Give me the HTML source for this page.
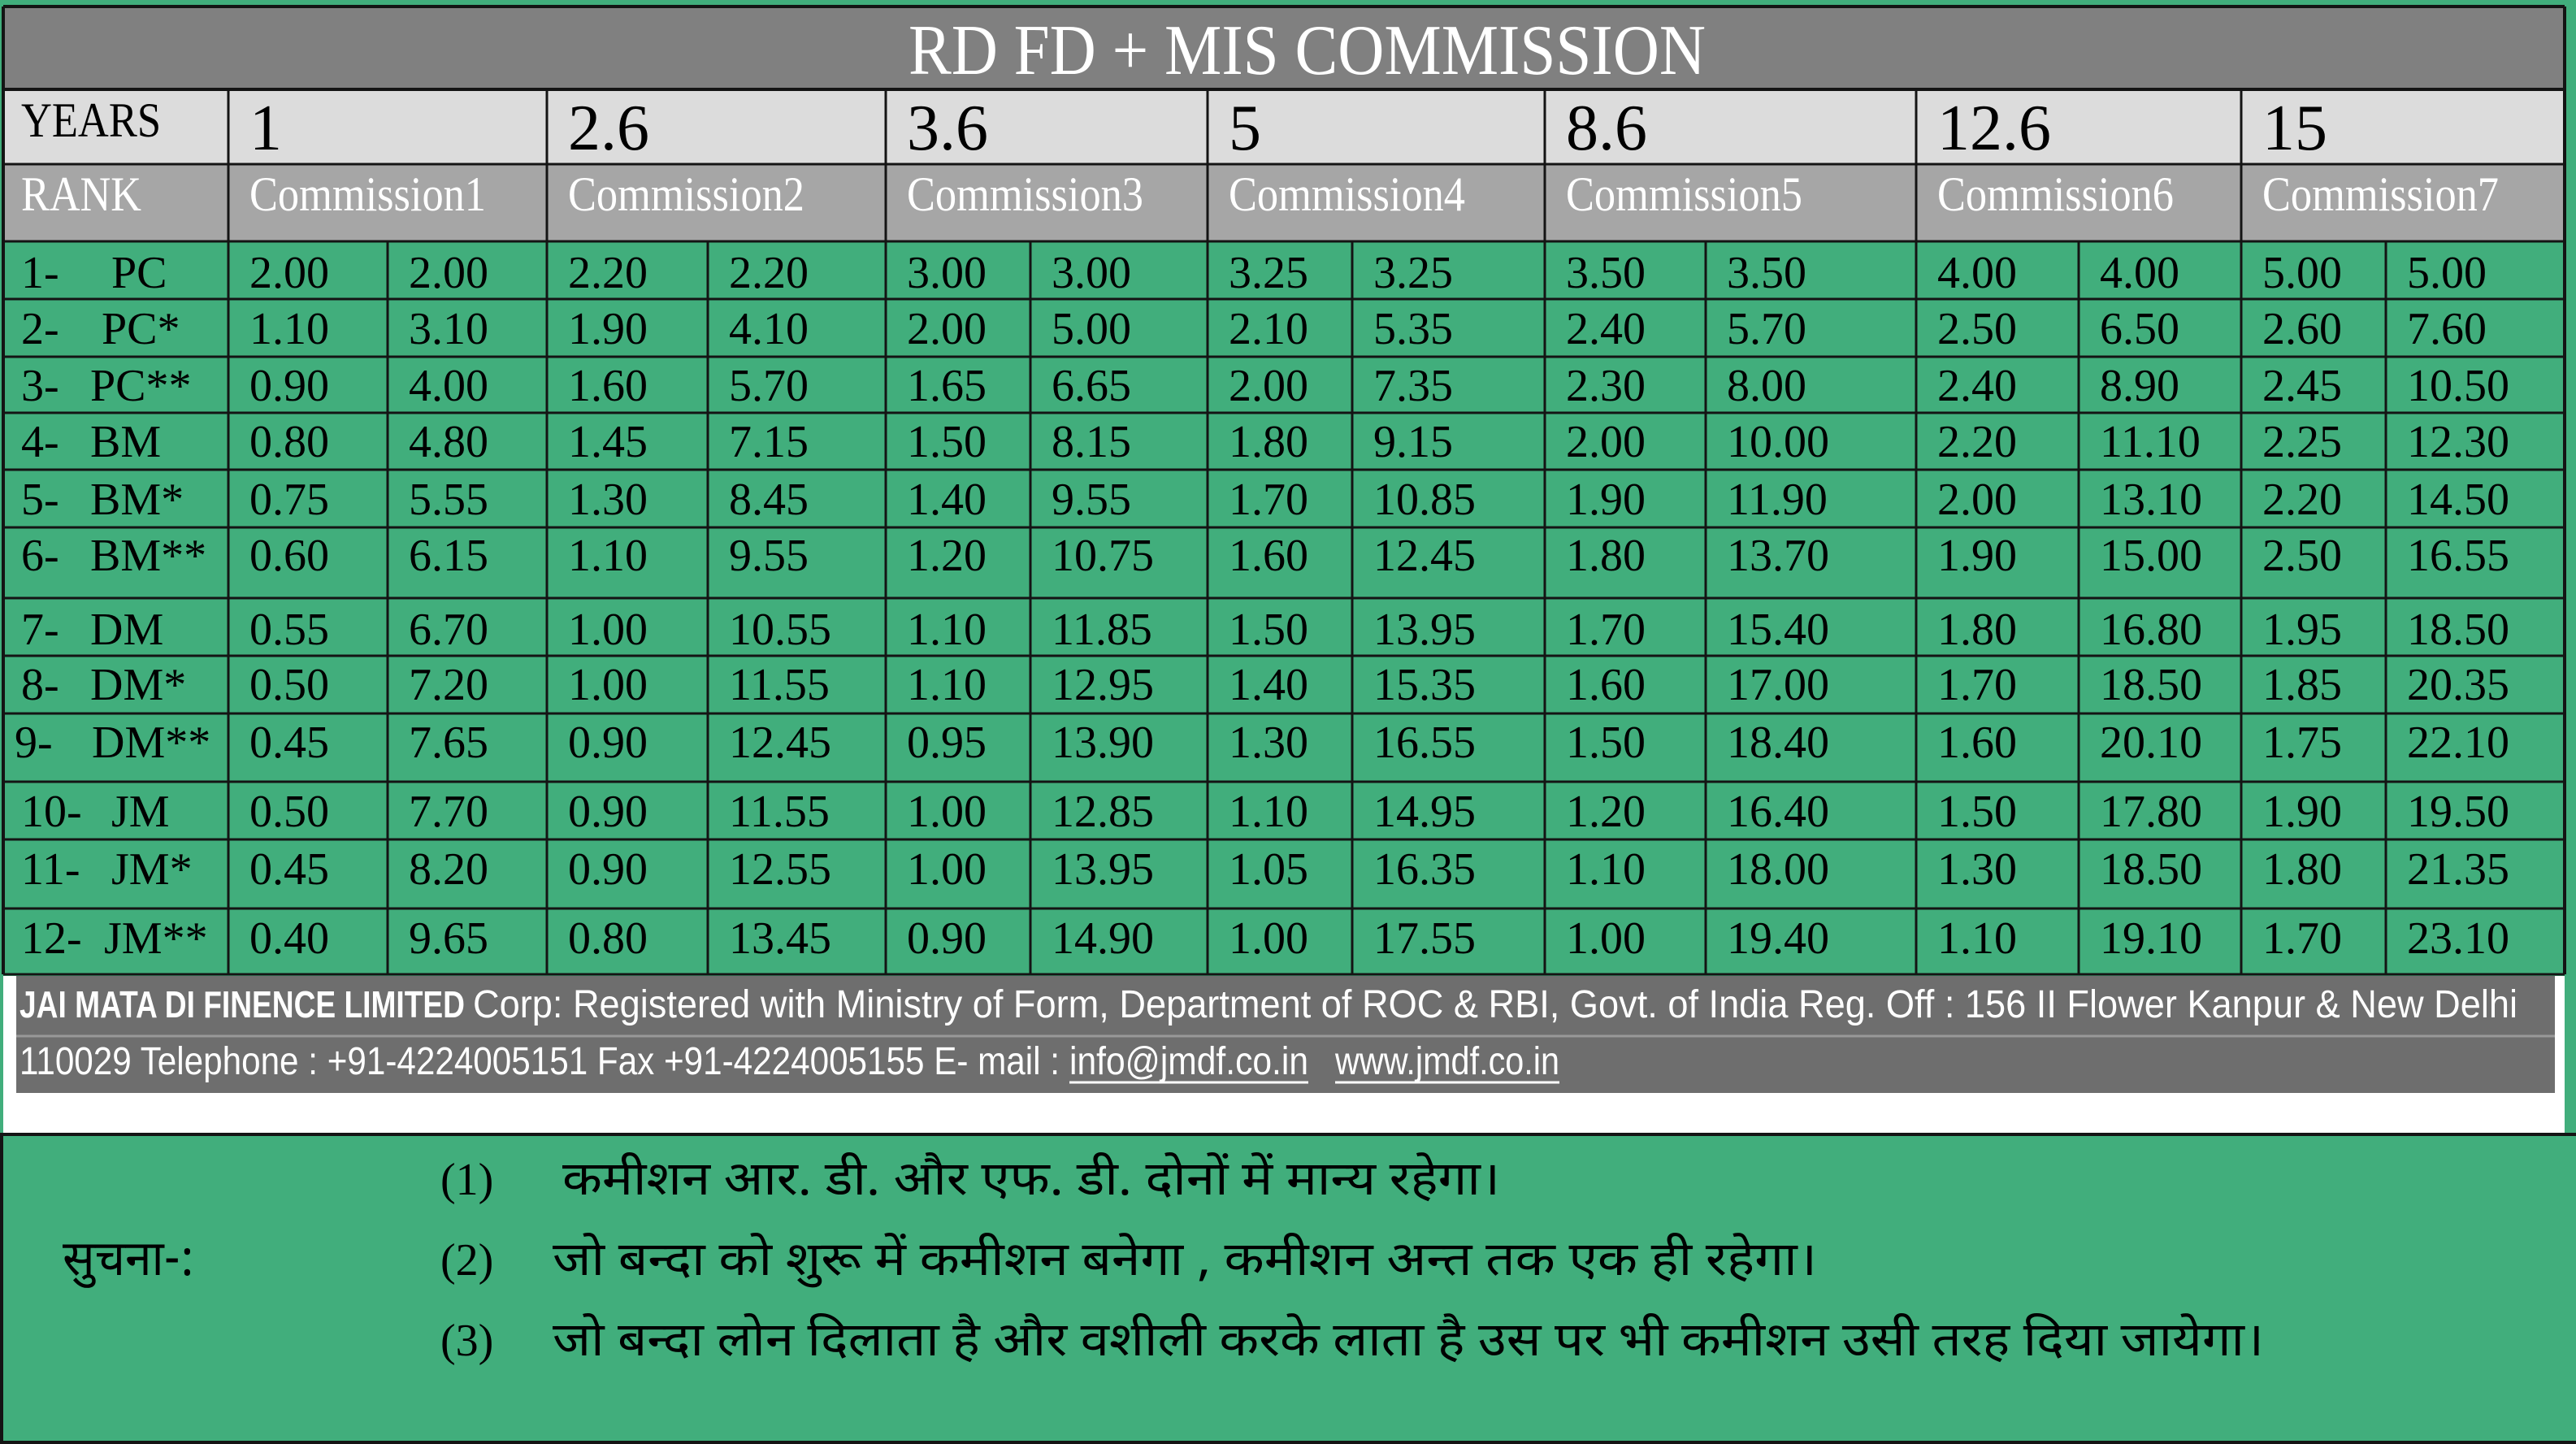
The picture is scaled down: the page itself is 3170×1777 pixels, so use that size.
<!DOCTYPE html>
<html><head><meta charset="utf-8"><style>
html,body{margin:0;padding:0;background:#41ae7c;}
svg{display:block}
</style></head><body>
<svg id="chart" xmlns="http://www.w3.org/2000/svg" width="3170" height="1777" viewBox="0 0 3170 1777">
<rect x="0" y="0" width="3170" height="1777" fill="#41ae7c"/>
<g id="g"></g>
</svg>
<script>
const years = ["1","2.6","3.6","5","8.6","12.6","15"];
const commHeaders = ["Commission1","Commission2","Commission3","Commission4","Commission5","Commission6","Commission7"];
const rankNums = ["1-","2-","3-","4-","5-","6-","7-","8-","9-","10-","11-","12-"];
const rankNames = ["PC","PC*","PC**","BM","BM*","BM**","DM","DM*","DM**","JM","JM*","JM**"];
const rateVals = [
["2.00","2.20","3.00","3.25","3.50","4.00","5.00"],
["1.10","1.90","2.00","2.10","2.40","2.50","2.60"],
["0.90","1.60","1.65","2.00","2.30","2.40","2.45"],
["0.80","1.45","1.50","1.80","2.00","2.20","2.25"],
["0.75","1.30","1.40","1.70","1.90","2.00","2.20"],
["0.60","1.10","1.20","1.60","1.80","1.90","2.50"],
["0.55","1.00","1.10","1.50","1.70","1.80","1.95"],
["0.50","1.00","1.10","1.40","1.60","1.70","1.85"],
["0.45","0.90","0.95","1.30","1.50","1.60","1.75"],
["0.50","0.90","1.00","1.10","1.20","1.50","1.90"],
["0.45","0.90","1.00","1.05","1.10","1.30","1.80"],
["0.40","0.80","0.90","1.00","1.00","1.10","1.70"]];
const totalVals = [
["2.00","2.20","3.00","3.25","3.50","4.00","5.00"],
["3.10","4.10","5.00","5.35","5.70","6.50","7.60"],
["4.00","5.70","6.65","7.35","8.00","8.90","10.50"],
["4.80","7.15","8.15","9.15","10.00","11.10","12.30"],
["5.55","8.45","9.55","10.85","11.90","13.10","14.50"],
["6.15","9.55","10.75","12.45","13.70","15.00","16.55"],
["6.70","10.55","11.85","13.95","15.40","16.80","18.50"],
["7.20","11.55","12.95","15.35","17.00","18.50","20.35"],
["7.65","12.45","13.90","16.55","18.40","20.10","22.10"],
["7.70","11.55","12.85","14.95","16.40","17.80","19.50"],
["8.20","12.55","13.95","16.35","18.00","18.50","21.35"],
["9.65","13.45","14.90","17.55","19.40","19.10","23.10"]];

const NS="http://www.w3.org/2000/svg";
const g=document.getElementById('g');
function el(tag,attrs,txt){const e=document.createElementNS(NS,tag);for(const k in attrs)e.setAttribute(k,attrs[k]);if(txt!==undefined)e.textContent=txt;g.appendChild(e);return e;}
const serif='"Liberation Serif", serif';
const sans='"Liberation Sans Narrow","Liberation Sans", "DejaVu Sans Condensed", sans-serif';
const hindi='"Noto Sans Devanagari","Lohit Devanagari","Mangal","DejaVu Sans", sans-serif';

const colL=[281,673,1090,1486,1901,2358,2758];
const colS=[477,871,1268,1664,2099,2558,2936];
const rowB=[297,368,439,508,578,649,736,807,878,962,1033,1118,1199];
const base=[354,423,493,562,633,702,793,861,932,1017,1088,1173];
const nameX=[137,125,111,111,111,111,111,111,113,137,137,128];

let r;
r=el('rect',{x:4,y:8,width:3152,height:102,fill:'#808080'});

let t=el('text',{x:1118,y:91,'font-family':serif,'font-size':88,fill:'#fff',textLength:981,lengthAdjust:'spacingAndGlyphs'},'RD FD + MIS COMMISSION');

r=el('rect',{x:4,y:110,width:3152,height:92,fill:'#dcdcdc'});

r=el('rect',{x:4,y:202,width:3152,height:95,fill:'#a6a6a6'});

t=el('text',{x:26,y:168,'font-family':serif,'font-size':60,fill:'#000',textLength:172,lengthAdjust:'spacingAndGlyphs'},'YEARS');

t=el('text',{x:26,y:259,'font-family':serif,'font-size':60,fill:'#fff',textLength:148,lengthAdjust:'spacingAndGlyphs'},'RANK');

years.forEach((y,i)=>{
  const tt=el('text',{x:colL[i]+26,y:184,'font-family':serif,'font-size':80,fill:'#000'},y);
  
  const c=el('text',{x:colL[i]+26,y:259,'font-family':serif,'font-size':60,fill:'#fff',textLength:291,lengthAdjust:'spacingAndGlyphs'},commHeaders[i]);
  
});
rankNums.forEach((n,ri)=>{
  const a=el('text',{x:ri===8?18:26,y:base[ri],'font-family':serif,'font-size':56,fill:'#000'},n);
  
  const b=el('text',{x:nameX[ri],y:base[ri],'font-family':serif,'font-size':56,fill:'#000'},rankNames[ri]);
  
  for(let c=0;c<7;c++){
    const v=el('text',{x:colL[c]+26,y:base[ri],'font-family':serif,'font-size':56,fill:'#000'},rateVals[ri][c]);
    
    const w=el('text',{x:colS[c]+26,y:base[ri],'font-family':serif,'font-size':56,fill:'#000'},totalVals[ri][c]);
    
  }
});
const lc='#141414';
function line(x1,y1,x2,y2,w){const l=el('line',{x1,y1,x2,y2,stroke:lc,'stroke-width':w||3});}
line(4,8,3156,8,4);line(4,110,3156,110,4);line(4,202,3156,202,3);
rowB.forEach(y=>line(4,y,3156,y,3));
line(4,8,4,1199,4);line(3156,8,3156,1199,4);
colL.forEach(x=>line(x,110,x,1199,3));
colS.forEach(x=>line(x,297,x,1199,3));

r=el('rect',{x:4,y:1201,width:3152,height:195,fill:'#fff'});

r=el('rect',{x:20,y:1201,width:3124,height:144,fill:'#6e6e6e'});

line(20,1275,3144,1275,3);
g.lastChild.setAttribute('stroke','#999');
t=el('text',{x:24,y:1252,'font-family':sans,'font-size':46,'font-weight':'bold',fill:'#fff',textLength:548,lengthAdjust:'spacingAndGlyphs'},'JAI  MATA DI FINENCE LIMITED');

t=el('text',{x:582,y:1252,'font-family':sans,'font-size':48,fill:'#fff',textLength:2516,lengthAdjust:'spacingAndGlyphs'},'Corp: Registered  with  Ministry  of Form, Department of  ROC & RBI,  Govt.  of  India  Reg.  Off : 156 II Flower Kanpur &  New  Delhi');

t=el('text',{x:24,y:1322,'font-family':sans,'font-size':48,fill:'#fff',textLength:1280,lengthAdjust:'spacingAndGlyphs'},'110029 Telephone : +91-4224005151   Fax +91-4224005155  E- mail :');

t=el('text',{x:1316,y:1322,'font-family':sans,'font-size':48,fill:'#fff',textLength:294,lengthAdjust:'spacingAndGlyphs'},'info@jmdf.co.in');

line(1316,1332,1610,1332,3);g.lastChild.setAttribute('stroke','#fff');
t=el('text',{x:1643,y:1322,'font-family':sans,'font-size':48,fill:'#fff',textLength:276,lengthAdjust:'spacingAndGlyphs'},'www.jmdf.co.in');

line(1643,1332,1919,1332,3);g.lastChild.setAttribute('stroke','#fff');

line(0,1396,3170,1396,4);line(2,1396,2,1775,4);line(0,1775,3170,1775,4);
t=el('text',{x:77,y:1569,'font-family':hindi,'font-size':60,fill:'#000',textLength:162,lengthAdjust:'spacingAndGlyphs'},'सुचना-:');

const nums=['(1)','(2)','(3)'];
const notes=['कमीशन आर. डी. और एफ. डी. दोनों में मान्य रहेगा।','जो बन्दा को शुरू में कमीशन बनेगा , कमीशन अन्त तक एक ही रहेगा।','जो बन्दा लोन दिलाता है और वशीली करके लाता है उस पर भी कमीशन उसी तरह दिया जायेगा।'];
const noteY=[1470,1569,1668];
const noteX=[692,680,680];
const noteW=[1154,1556,2106];
nums.forEach((n,i)=>{
  const a=el('text',{x:542,y:noteY[i],'font-family':serif,'font-size':56,fill:'#000'},n);
  
  const b=el('text',{x:noteX[i],y:noteY[i],'font-family':hindi,'font-size':58,fill:'#000',textLength:noteW[i],lengthAdjust:'spacingAndGlyphs'},notes[i]);
  
});
</script>
</body></html>
